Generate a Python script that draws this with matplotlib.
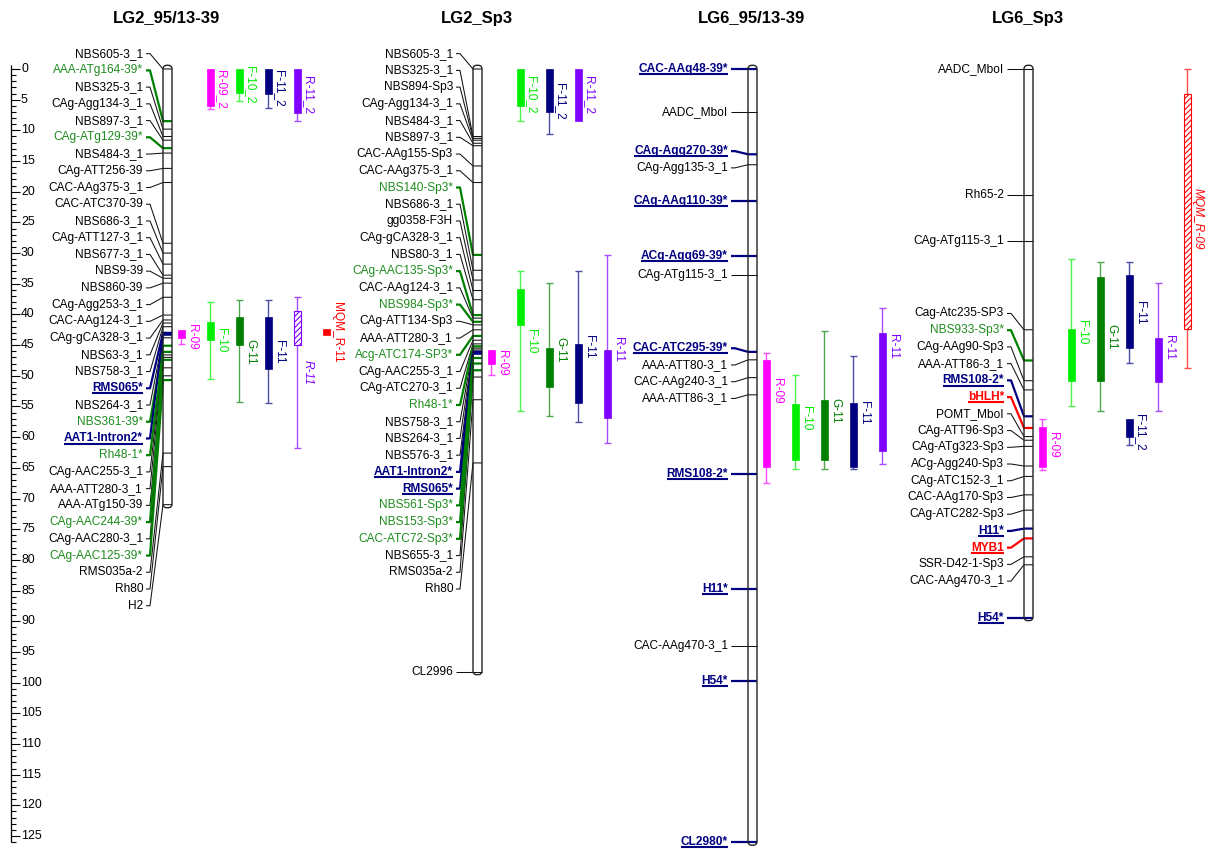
import matplotlib
matplotlib.use("Agg")
import matplotlib.pyplot as plt
from matplotlib.patches import Rectangle, Polygon
from matplotlib.colors import to_rgb
import numpy as np

plt.rcParams['font.family'] = ['Liberation Sans', 'DejaVu Sans']
plt.rcParams['hatch.linewidth'] = 0.8

# ------------------------------------------------------------------ data
# kind codes: k = normal, g = distorted (green), b = anchor (navy, bold), r = candidate gene (red, bold)
lg2_95_markers = ["NBS605-3_1", "AAA-ATg164-39*", "NBS325-3_1", "CAg-Agg134-3_1", "NBS897-3_1",
                  "CAg-ATg129-39*", "NBS484-3_1", "CAg-ATT256-39", "CAC-AAg375-3_1", "CAC-ATC370-39",
                  "NBS686-3_1", "CAg-ATT127-3_1", "NBS677-3_1", "NBS9-39", "NBS860-39",
                  "CAg-Agg253-3_1", "CAC-AAg124-3_1", "CAg-gCA328-3_1", "NBS63-3_1", "NBS758-3_1",
                  "RMS065*", "NBS264-3_1", "NBS361-39*", "AAT1-Intron2*", "Rh48-1*",
                  "CAg-AAC255-3_1", "AAA-ATT280-3_1", "AAA-ATg150-39", "CAg-AAC244-39*", "CAg-AAC280-3_1",
                  "CAg-AAC125-39*", "RMS035a-2", "Rh80", "H2"]
lg2_95_cm = [0.0, 8.5, 9.8, 11.0, 11.6, 12.9, 13.7, 16.2, 18.5, 28.4,
             30.0, 31.8, 33.6, 34.1, 34.9, 37.2, 40.1, 40.9, 41.4, 42.0,
             43.0, 43.8, 45.1, 43.3, 46.1, 46.6, 47.0, 48.7, 47.4, 50.0,
             50.7, 62.6, 64.8, 71.0]
lg2_95_kind = list("kgkkkg" + "k" * 14 + "bkgbg" + "kkkgkg" + "kkk")

lg2_sp3_markers = ["NBS605-3_1", "NBS325-3_1", "NBS894-Sp3", "CAg-Agg134-3_1", "NBS484-3_1",
                   "NBS897-3_1", "CAC-AAg155-Sp3", "CAC-AAg375-3_1", "NBS140-Sp3*", "NBS686-3_1",
                   "gg0358-F3H", "CAg-gCA328-3_1", "NBS80-3_1", "CAg-AAC135-Sp3*", "CAC-AAg124-3_1",
                   "NBS984-Sp3*", "CAg-ATT134-Sp3", "AAA-ATT280-3_1", "Acg-ATC174-SP3*", "CAg-AAC255-3_1",
                   "CAg-ATC270-3_1", "Rh48-1*", "NBS758-3_1", "NBS264-3_1", "NBS576-3_1",
                   "AAT1-Intron2*", "RMS065*", "NBS561-Sp3*", "NBS153-Sp3*", "CAC-ATC72-Sp3*",
                   "NBS655-3_1", "RMS035a-2", "Rh80", "CL2996"]
lg2_sp3_cm = [0.0, 11.0, 11.3, 11.6, 12.1, 12.5, 15.8, 18.5, 30.3, 32.8,
              34.4, 36.1, 37.6, 40.1, 40.6, 41.2, 41.7, 42.5, 43.5, 44.2,
              44.8, 45.2, 45.5, 45.8, 46.0, 46.1, 46.4, 47.1, 48.0, 49.1,
              50.2, 53.9, 64.2, 98.2]
lg2_sp3_kind = list("kkkkkkkk" + "gkkkkgkgkkg" + "kkgkkk" + "bbggg" + "kkkk")

lg6_95_markers = ["CAC-AAg48-39*", "AADC_MboI", "CAg-Agg270-39*", "CAg-Agg135-3_1", "CAg-AAg110-39*",
                  "ACg-Agg69-39*", "CAg-ATg115-3_1", "CAC-ATC295-39*", "AAA-ATT80-3_1", "CAC-AAg240-3_1",
                  "AAA-ATT86-3_1", "RMS108-2*", "H11*", "CAC-AAg470-3_1", "H54*", "CL2980*"]
lg6_95_cm = [0.0, 7.0, 13.9, 15.6, 21.5, 30.5, 33.6, 46.1, 47.4, 50.3,
             53.1, 66.0, 84.7, 94.1, 99.7, 126.0]
lg6_95_kind = list("bkbkbbkbkkkbbkbb")

lg6_sp3_markers = ["AADC_MboI", "Rh65-2", "CAg-ATg115-3_1", "Cag-Atc235-SP3", "NBS933-Sp3*",
                   "CAg-AAg90-Sp3", "AAA-ATT86-3_1", "RMS108-2*", "bHLH*", "POMT_MboI",
                   "CAg-ATT96-Sp3", "CAg-ATg323-Sp3", "ACg-Agg240-Sp3", "CAg-ATC152-3_1", "CAC-AAg170-Sp3",
                   "CAg-ATC282-Sp3", "H11*", "MYB1", "SSR-D42-1-Sp3", "CAC-AAg470-3_1", "H54*"]
lg6_sp3_cm = [0.0, 20.5, 28.0, 42.5, 47.5, 50.8, 52.3, 56.6, 58.5, 59.9,
              60.5, 61.5, 64.7, 66.4, 69.4, 71.9, 74.9, 76.5, 79.5, 80.8, 89.4]
lg6_sp3_kind = list("kkkkgkkbrkkkkkkkbrkkb")

# QTL intervals (cM): LOD-1 box, LOD-2 whiskers, peak (label position)
lg2_95_qtl = ["R-09_2", "F-10_2", "F-11_2", "R-11_2", "R-09", "F-10", "G-11", "F-11", "R-11", "MQM_R-11"]
lg2_95_lod1_lo = [0.0, 0.0, 0.0, 0.0, 42.6, 41.3, 40.4, 40.4, 39.4, 42.3]
lg2_95_lod1_hi = [6.0, 3.9, 4.0, 7.2, 43.9, 44.1, 44.9, 48.9, 44.9, 43.4]
lg2_95_lod2_lo = [0.0, 0.0, 0.0, 0.0, 42.6, 37.9, 37.6, 37.6, 37.2, 42.3]
lg2_95_lod2_hi = [6.6, 5.2, 6.4, 8.4, 44.8, 50.5, 54.3, 54.4, 61.8, 43.4]
lg2_95_peak = [3.3, 2.6, 3.2, 4.2, 43.7, 44.2, 46.0, 46.0, 49.5, 42.85]

lg2_sp3_qtl = ["F-10_2", "F-11_2", "R-11_2", "R-09", "F-10", "G-11", "F-11", "R-11"]
lg2_sp3_lod1_lo = [0.0, 0.0, 0.0, 45.8, 35.9, 45.4, 44.8, 45.8]
lg2_sp3_lod1_hi = [6.0, 7.0, 8.4, 48.0, 41.7, 51.8, 54.4, 56.8]
lg2_sp3_lod2_lo = [0.0, 0.0, 0.0, 45.8, 32.9, 34.9, 32.9, 30.3]
lg2_sp3_lod2_hi = [8.4, 10.6, 8.4, 49.9, 55.8, 56.6, 57.5, 61.0]
lg2_sp3_peak = [4.2, 5.3, 4.2, 47.85, 44.35, 45.75, 45.2, 45.65]

lg6_95_qtl = ["R-09", "F-10", "G-11", "F-11", "R-11"]
lg6_95_lod1_lo = [47.4, 54.6, 53.9, 54.4, 43.0]
lg6_95_lod1_hi = [64.9, 63.7, 63.8, 64.8, 62.2]
lg6_95_lod2_lo = [46.3, 49.9, 42.7, 46.8, 38.9]
lg6_95_lod2_hi = [67.4, 65.2, 65.2, 65.2, 64.4]
lg6_95_peak = [52.5, 56.9, 55.7, 56.1, 45.2]

lg6_sp3_qtl = ["R-09", "F-10", "G-11", "F-11", "F-11_2", "R-11", "MQM_R-09"]
lg6_sp3_lod1_lo = [58.4, 42.4, 33.9, 33.5, 57.0, 43.9, 4.0]
lg6_sp3_lod1_hi = [64.9, 50.8, 50.8, 45.5, 60.0, 51.0, 42.4]
lg6_sp3_lod2_lo = [57.0, 31.0, 31.4, 31.4, 57.0, 34.9, 0.0]
lg6_sp3_lod2_hi = [65.4, 54.9, 55.8, 47.9, 61.3, 55.8, 48.7]
lg6_sp3_peak = [61.2, 42.95, 43.6, 39.65, 59.15, 45.35, 24.35]

titles = ["LG2_95/13-39", "LG2_Sp3", "LG6_95/13-39", "LG6_Sp3"]

# ------------------------------------------------------------------ styles / layout
W, H = 1210, 851
PX_PER_CM = 6.136
Y0_PX = 69.0
FS = 8.6

kind_color = {"k": "#000000", "g": "#1e8c1e", "b": "#000080", "r": "#ff0000"}
line_color = {"k": "#111111", "g": "#008000", "b": "#000080", "r": "#ff0000"}
trait_color = {"R-09": "#ff00ff", "F-10": "#00ee00", "G-11": "#008000",
               "F-11": "#000080", "R-11": "#8000ff", "MQM": "#ff0000"}

chrom_x = [(163, 172), (473, 482), (748, 757), (1024, 1033)]
qtl_cols = [
    {"R-09_2": 1, "F-10_2": 2, "F-11_2": 3, "R-11_2": 4, "R-09": 0, "F-10": 1, "G-11": 2,
     "F-11": 3, "R-11": 4, "MQM_R-11": 5},
    {"F-10_2": 1, "F-11_2": 2, "R-11_2": 3, "R-09": 0, "F-10": 1, "G-11": 2, "F-11": 3, "R-11": 4},
    {"R-09": 0, "F-10": 1, "G-11": 2, "F-11": 3, "R-11": 4},
    {"R-09": 0, "F-10": 1, "G-11": 2, "F-11": 3, "F-11_2": 3, "R-11": 4, "MQM_R-09": 5},
]
hatched = [{"R-11"}, set(), set(), {"MQM_R-09"}]

maps = [
    (lg2_95_markers, lg2_95_cm, lg2_95_kind,
     (lg2_95_qtl, lg2_95_lod1_lo, lg2_95_lod1_hi, lg2_95_lod2_lo, lg2_95_lod2_hi, lg2_95_peak)),
    (lg2_sp3_markers, lg2_sp3_cm, lg2_sp3_kind,
     (lg2_sp3_qtl, lg2_sp3_lod1_lo, lg2_sp3_lod1_hi, lg2_sp3_lod2_lo, lg2_sp3_lod2_hi, lg2_sp3_peak)),
    (lg6_95_markers, lg6_95_cm, lg6_95_kind,
     (lg6_95_qtl, lg6_95_lod1_lo, lg6_95_lod1_hi, lg6_95_lod2_lo, lg6_95_lod2_hi, lg6_95_peak)),
    (lg6_sp3_markers, lg6_sp3_cm, lg6_sp3_kind,
     (lg6_sp3_qtl, lg6_sp3_lod1_lo, lg6_sp3_lod1_hi, lg6_sp3_lod2_lo, lg6_sp3_lod2_hi, lg6_sp3_peak)),
]

# ------------------------------------------------------------------ figure
fig = plt.figure(figsize=(W / 100, H / 100), dpi=100)
ax = fig.add_axes([0, 0, 1, 1])
ax.set_xlim(0, W)
ax.set_ylim((H - Y0_PX) / PX_PER_CM, -Y0_PX / PX_PER_CM)
ax.axis("off")

GAP = 16.73 / PX_PER_CM      # label spacing
TOP = -2.5                   # labels may not go above this


def spread_labels(cm):
    n = len(cm)
    groups = [[i] for i in range(n)]

    def place(g):
        lo = min(cm[i] for i in g)
        hi = max(cm[i] for i in g)
        return max((lo + hi) / 2 - GAP * (len(g) - 1) / 2, TOP)

    changed = True
    while changed:
        changed = False
        starts = [place(g) for g in groups]
        for k in range(len(groups) - 1):
            end_k = starts[k] + GAP * (len(groups[k]) - 1)
            if starts[k + 1] < end_k + GAP - 1e-9:
                groups[k] = groups[k] + groups[k + 1]
                del groups[k + 1]
                changed = True
                break
    out = [0.0] * n
    for g in groups:
        s = place(g)
        for j, i in enumerate(g):
            out[i] = s + j * GAP
    return out


def blend(c, a):
    r, g, b = to_rgb(c)
    return (r + (1 - r) * a, g + (1 - g) * a, b + (1 - b) * a)


def chrom_poly(xl, xr, top, bot, **kw):
    r = 3.5
    ry = r / PX_PER_CM
    ph = np.linspace(0, np.pi / 2, 10)
    pts = []
    cx, cy = xl + r, top + ry
    pts += list(zip(cx - r * np.cos(ph), cy - ry * np.sin(ph)))
    cx, cy = xr - r, top + ry
    pts += list(zip(cx + r * np.sin(ph), cy - ry * np.cos(ph)))
    cx, cy = xr - r, bot - ry
    pts += list(zip(cx + r * np.cos(ph), cy + ry * np.sin(ph)))
    cx, cy = xl + r, bot - ry
    pts += list(zip(cx - r * np.sin(ph), cy + ry * np.cos(ph)))
    return Polygon(pts, closed=True, **kw)


# ruler
RX = 11
ax.vlines(RX, -0.7, 126.0, color="black", lw=0.9)
minor = [v for v in range(0, 127) if v % 5]
major = list(range(0, 126, 5))
ax.hlines(minor, RX, RX + 5, color="black", lw=0.8)
ax.hlines(major, RX, RX + 9, color="black", lw=0.8)
for v in major:
    ax.text(RX + 10, v, str(v), ha="left", va="center", fontsize=FS + 0.3)

underlined = []

for mi, (names, cm, kinds, qtl) in enumerate(maps):
    xl, xr = chrom_x[mi]
    top = min(cm) - 0.6
    bot = max(cm) + 0.5
    ax.add_patch(chrom_poly(xl, xr, top, bot, facecolor="white", edgecolor="none", zorder=2))
    ax.add_patch(chrom_poly(xl, xr, top, bot, facecolor="none", edgecolor="#222222", lw=1.0, zorder=5))
    ax.text((xl + xr) / 2 - 1, (18 - Y0_PX) / PX_PER_CM, titles[mi], ha="center", va="center",
            fontsize=12, fontweight="bold")

    lab_y = spread_labels(cm)
    lab_end = xl - 20
    for name, m, ly, k in zip(names, cm, lab_y, kinds):
        strong = k in "br"
        lw = 1.6 if k != "k" else 0.75
        ax.plot([lab_end + 3, lab_end + 7, xl, xr], [ly, ly, m, m], color=line_color[k],
                lw=lw, zorder=3 if k == "k" else 4, solid_capstyle="butt")
        t = ax.text(lab_end, ly, name, ha="right", va="center", fontsize=FS,
                    color=kind_color[k], fontweight="bold" if strong else "normal", zorder=6)
        if strong:
            underlined.append((t, kind_color[k]))

    qn, l1lo, l1hi, l2lo, l2hi, pk = qtl
    for q, a1, b1, a2, b2, p in zip(qn, l1lo, l1hi, l2lo, l2hi, pk):
        key = "MQM" if q.startswith("MQM") else q.split("_")[0]
        col = trait_color[key]
        xc = xr + 9 + 29 * qtl_cols[mi][q]
        wcol = blend(col, 0.3)
        if a2 < a1 - 1e-6 or b2 > b1 + 1e-6:
            ax.vlines(xc, a2, b2, color=wcol, lw=1.0, zorder=3)
        if a2 < a1 - 1e-6:
            ax.hlines(a2, xc - 3.5, xc + 3.5, color=wcol, lw=1.0, zorder=3)
        if b2 > b1 + 1e-6:
            ax.hlines(b2, xc - 3.5, xc + 3.5, color=wcol, lw=1.0, zorder=3)
        is_h = q in hatched[mi]
        if is_h:
            ax.add_patch(Rectangle((xc - 3.5, a1), 7, b1 - a1, facecolor="white",
                                   edgecolor=col, hatch="//////", lw=0.8, zorder=4))
        else:
            ax.add_patch(Rectangle((xc - 3.5, a1), 7, b1 - a1, facecolor=col,
                                   edgecolor=col, lw=0.5, zorder=4))
        ax.text(xc + 5, p, q, rotation=-90, ha="left", va="center",
                fontsize=FS, color=col, style="italic" if is_h else "normal", zorder=6)

# underline bold labels
fig.canvas.draw()
rend = fig.canvas.get_renderer()
inv = ax.transData.inverted()
for t, c in underlined:
    bb = t.get_window_extent(rend)
    (x0, y0), (x1, _) = inv.transform([(bb.x0, bb.y0 + 0.8), (bb.x1, bb.y0 + 0.8)])
    ax.plot([x0, x1], [y0, y0], color=c, lw=1.5, zorder=6, solid_capstyle="butt")

fig.savefig("out.png", dpi=100)
